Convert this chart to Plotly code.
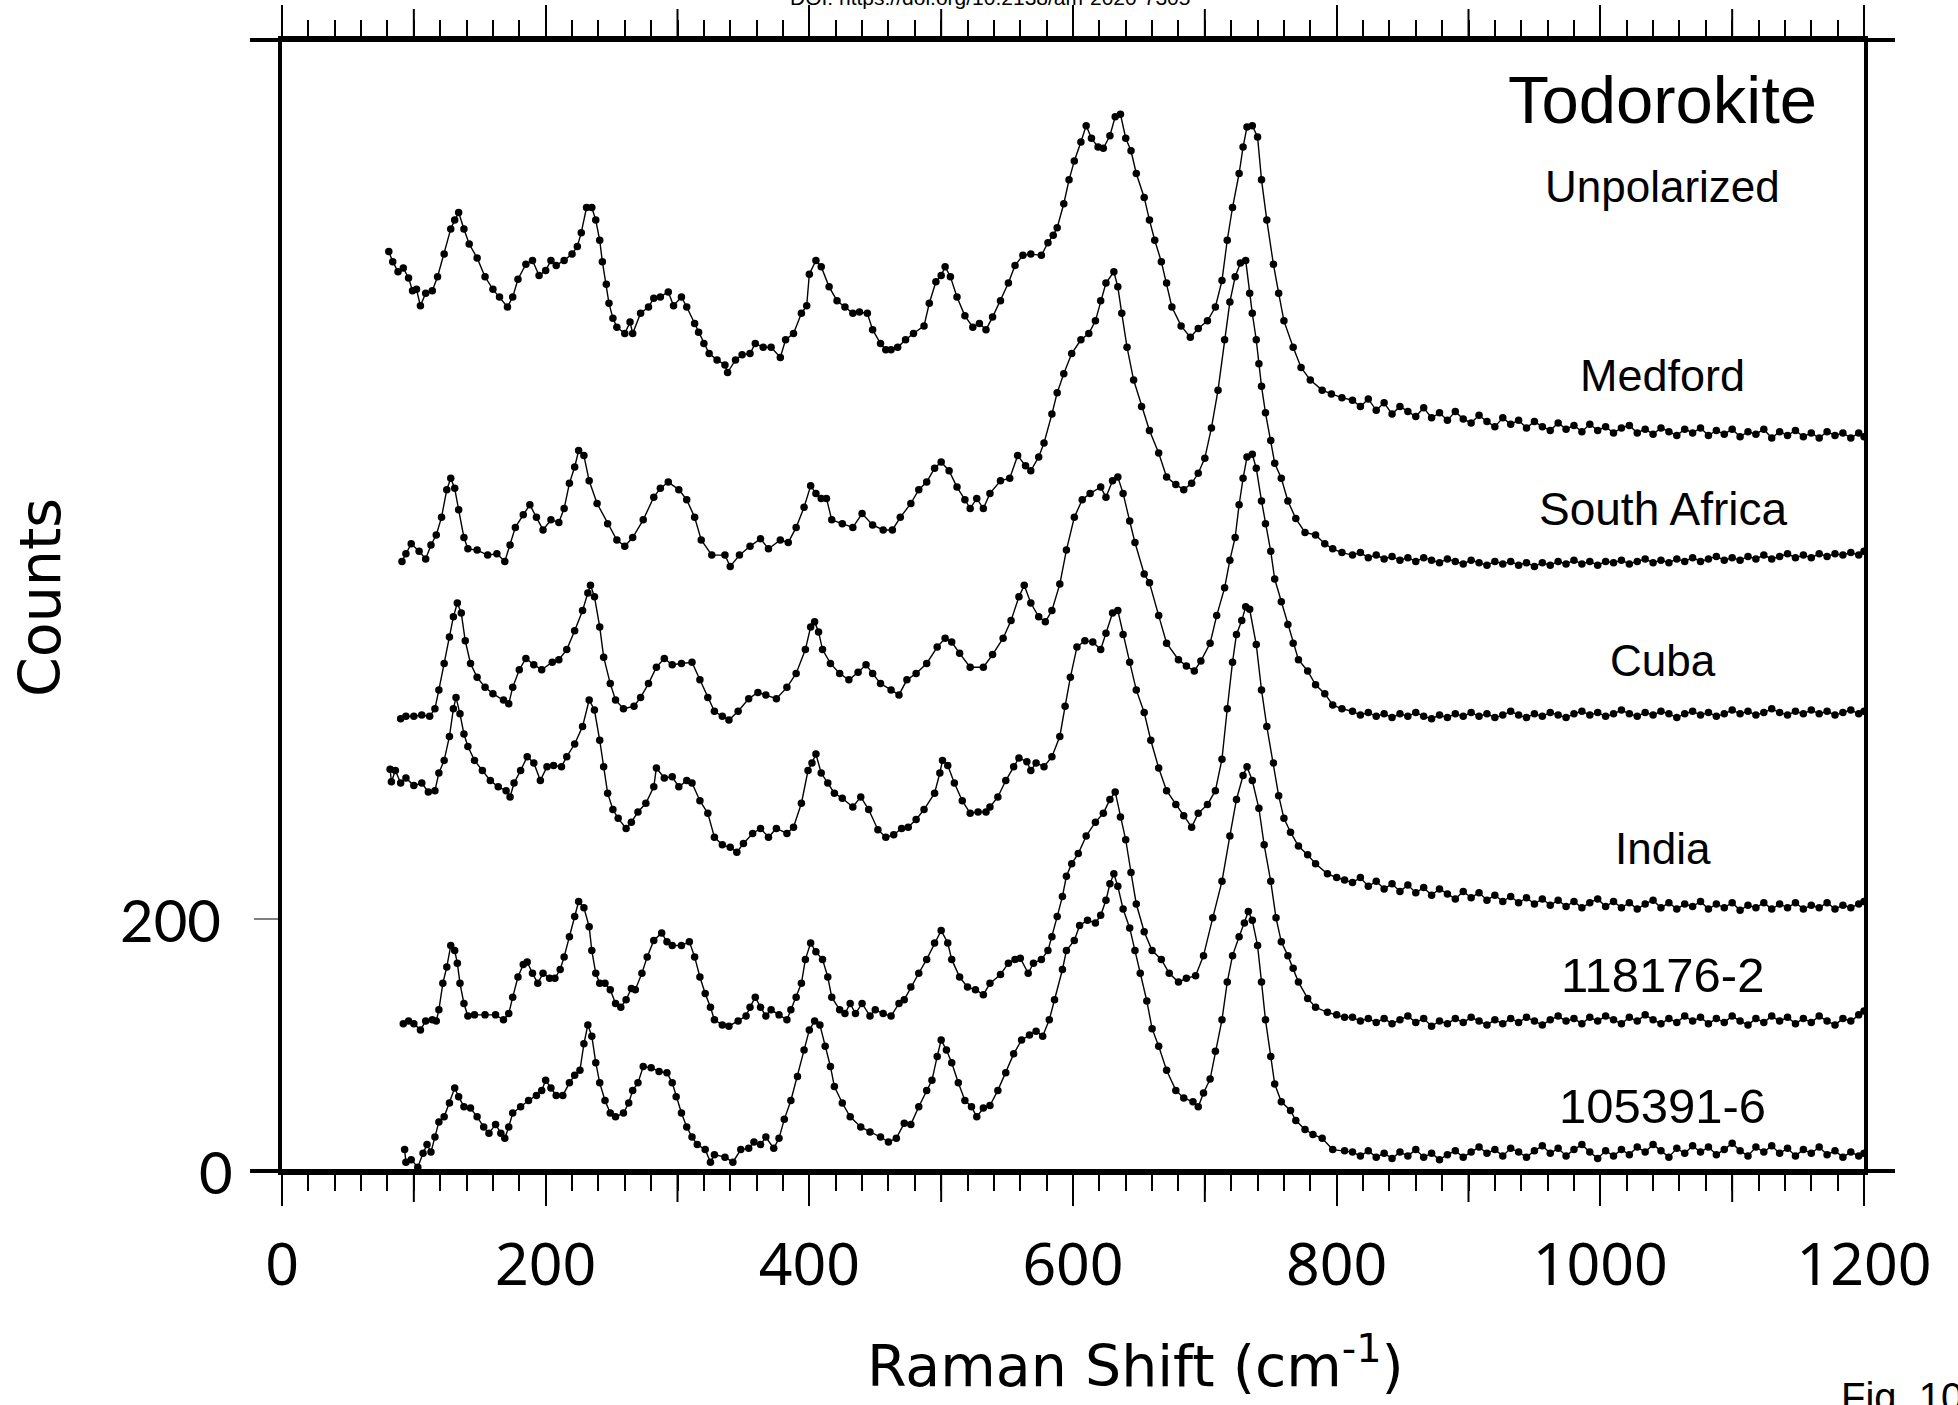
import plotly.graph_objects as go

# ---------------------------------------------------------------------------
# Raman spectra of todorokite, stacked with vertical offsets (counts).
# Each peak region is a list of (Raman shift cm-1, counts) pairs; the flat
# high-shift tails share one shift grid.
# ---------------------------------------------------------------------------

MEDFORD = [
    (81, 730), (84, 722), (88, 714), (92, 717), (96, 709), (99, 699), (102, 700), (105, 687),
    (109, 697), (114, 699), (118, 710), (123, 728), (128, 748), (131, 755), (134, 761), (138, 748),
    (142, 736), (148, 725), (154, 710), (160, 700), (165, 694), (171, 686), (175, 694), (179, 708),
    (185, 720), (190, 723), (195, 711), (200, 715), (204, 723), (208, 719), (214, 723), (220, 728),
    (224, 734), (227, 745), (231, 765), (235, 765), (238, 755), (241, 739), (243, 722), (246, 704),
    (248, 689), (251, 677), (254, 670), (260, 665), (264, 674), (266, 665), (272, 681), (278, 686),
    (282, 693), (287, 694), (293, 698), (297, 687), (303, 694), (307, 686), (313, 673), (316, 666),
    (320, 657), (324, 649), (330, 644), (336, 640), (338, 634), (344, 644), (349, 648), (355, 649),
    (359, 657), (365, 654), (371, 654), (378, 646), (382, 660), (388, 665), (394, 681), (398, 687),
    (400, 712), (405, 723), (409, 718), (415, 702), (421, 691), (427, 686), (433, 681), (438, 682),
    (444, 681), (448, 668), (454, 657), (458, 652), (462, 652), (467, 654), (473, 660), (479, 665),
    (487, 671), (491, 689), (496, 706), (500, 711), (503, 718), (507, 710), (512, 694), (518, 679),
    (524, 670), (529, 673), (534, 668), (539, 678), (545, 691), (551, 705), (556, 719), (562, 727),
    (568, 728), (576, 727), (581, 737), (585, 743), (588, 749), (593, 768), (597, 787), (601, 802),
    (606, 817), (610, 830), (614, 820), (619, 813), (623, 812), (628, 822), (632, 837), (636, 839),
    (640, 820), (644, 810), (648, 792), (654, 773), (658, 755), (662, 739), (667, 722), (671, 705),
    (675, 686), (682, 671), (689, 662), (695, 669), (702, 675), (708, 686), (713, 707), (717, 739),
    (721, 765), (726, 792), (729, 813), (732, 829), (736, 830), (740, 821), (743, 787), (747, 755),
    (752, 720), (756, 697), (760, 675), (767, 654), (773, 638), (780, 628), (789, 620), (796, 617),
    (804, 614),
]

SOUTH_AFRICA = [
    (91, 484), (94, 490), (98, 498), (104, 492), (109, 486), (113, 497), (117, 505), (121, 519),
    (125, 541), (128, 550), (131, 542), (134, 525), (138, 503), (141, 494), (148, 493), (156, 489),
    (163, 490), (169, 484), (173, 497), (177, 511), (183, 521), (188, 529), (193, 519), (198, 509),
    (204, 517), (210, 515), (214, 526), (218, 546), (222, 559), (225, 572), (229, 568), (233, 548),
    (239, 530), (247, 514), (254, 501), (260, 496), (266, 503), (274, 517), (282, 535), (287, 542),
    (293, 547), (301, 541), (307, 533), (313, 519), (318, 501), (326, 489), (336, 489), (340, 480),
    (347, 489), (355, 496), (363, 502), (369, 494), (378, 501), (384, 499), (390, 511), (396, 527),
    (401, 544), (405, 538), (409, 534), (413, 534), (417, 517), (425, 514), (433, 511), (440, 522),
    (448, 513), (456, 509), (463, 509), (469, 519), (477, 530), (483, 541), (489, 547), (495, 558),
    (500, 563), (506, 556), (512, 543), (518, 533), (522, 526), (527, 534), (532, 526), (537, 538),
    (545, 548), (552, 550), (558, 568), (564, 560), (568, 556), (574, 567), (578, 578), (584, 601),
    (588, 618), (593, 633), (599, 649), (606, 660), (612, 665), (617, 675), (621, 691), (625, 705),
    (631, 714), (634, 702), (637, 681), (641, 654), (646, 628), (652, 607), (658, 588), (665, 570),
    (671, 551), (678, 545), (684, 541), (690, 546), (695, 554), (700, 566), (705, 590), (710, 620),
    (715, 660), (719, 690), (723, 710), (727, 721), (731, 723), (734, 697), (736, 681), (739, 660),
    (741, 641), (743, 623), (746, 602), (750, 580), (753, 562), (758, 550), (763, 532), (769, 518),
    (776, 507), (784, 505), (791, 498), (797, 494), (804, 491),
]

CUBA = [
    (90, 359), (94, 361), (100, 361), (106, 362), (112, 361), (116, 367), (119, 382), (123, 403),
    (127, 424), (130, 440), (133, 451), (136, 443), (139, 421), (143, 403), (148, 392), (154, 384),
    (160, 379), (168, 374), (172, 371), (175, 384), (180, 398), (185, 407), (191, 402), (197, 398),
    (205, 404), (210, 406), (216, 414), (222, 429), (228, 445), (232, 459), (234, 465), (237, 456),
    (241, 432), (244, 408), (249, 387), (253, 374), (259, 367), (267, 369), (272, 376), (278, 387),
    (284, 400), (290, 407), (296, 402), (303, 403), (311, 404), (317, 390), (323, 376), (328, 365),
    (334, 361), (339, 358), (346, 365), (354, 375), (361, 380), (367, 378), (375, 375), (383, 384),
    (390, 395), (397, 414), (401, 432), (404, 436), (407, 428), (410, 414), (416, 403), (423, 395),
    (430, 390), (437, 396), (443, 402), (448, 395), (454, 387), (462, 382), (468, 378), (474, 390),
    (481, 395), (489, 403), (497, 416), (503, 423), (508, 420), (514, 411), (522, 400), (532, 400),
    (539, 410), (547, 423), (553, 437), (559, 456), (563, 465), (568, 451), (574, 440), (579, 436),
    (584, 445), (590, 466), (595, 493), (601, 519), (607, 533), (613, 538), (621, 543), (625, 535),
    (630, 548), (634, 551), (638, 538), (643, 516), (647, 499), (654, 474), (658, 467), (665, 441),
    (671, 419), (680, 406), (686, 401), (692, 397), (697, 405), (704, 419), (709, 441), (715, 463),
    (719, 485), (723, 503), (726, 529), (729, 550), (732, 567), (736, 569), (739, 558), (743, 532),
    (746, 514), (750, 492), (753, 470), (758, 452), (763, 434), (767, 419), (771, 406), (778, 397),
    (784, 386), (791, 379), (797, 370), (804, 367),
]

INDIA = [
    (82, 319), (83, 309), (86, 318), (90, 308), (94, 312), (100, 306), (106, 308), (111, 301),
    (116, 302), (119, 316), (123, 326), (127, 345), (130, 367), (132, 376), (135, 363), (138, 347),
    (141, 337), (146, 326), (152, 318), (158, 310), (164, 305), (170, 302), (173, 297), (176, 308),
    (181, 318), (186, 329), (191, 324), (196, 310), (201, 321), (206, 322), (212, 321), (216, 329),
    (222, 339), (228, 353), (233, 374), (237, 366), (241, 342), (244, 321), (247, 300), (251, 287),
    (255, 280), (261, 272), (265, 277), (270, 285), (276, 292), (282, 305), (284, 320), (290, 312),
    (296, 313), (301, 305), (307, 310), (311, 308), (317, 294), (323, 284), (328, 265), (334, 259),
    (340, 257), (345, 253), (350, 260), (357, 268), (363, 272), (369, 265), (375, 272), (383, 268),
    (388, 273), (394, 292), (399, 318), (402, 324), (405, 331), (409, 316), (414, 308), (419, 300),
    (425, 296), (433, 289), (439, 297), (445, 287), (452, 271), (458, 265), (464, 267), (470, 272),
    (475, 273), (481, 279), (487, 287), (495, 300), (499, 316), (501, 326), (505, 322), (510, 308),
    (516, 294), (522, 284), (528, 285), (534, 285), (537, 289), (543, 297), (549, 310), (555, 321),
    (559, 328), (565, 325), (568, 318), (572, 324), (578, 321), (584, 329), (590, 345), (594, 369),
    (598, 392), (603, 416), (609, 421), (615, 420), (621, 414), (625, 427), (630, 443), (634, 445),
    (638, 426), (643, 404), (648, 382), (654, 364), (659, 342), (665, 320), (671, 302), (678, 291),
    (684, 282), (690, 273), (695, 284), (702, 291), (708, 302), (713, 327), (717, 367), (721, 404),
    (724, 426), (728, 437), (731, 448), (734, 446), (739, 418), (743, 382), (747, 353), (752, 324),
    (756, 298), (760, 280), (765, 269), (771, 258), (778, 251), (784, 244), (793, 236), (800, 233),
    (806, 231),
]

R118176_2 = [
    (92, 117), (96, 119), (100, 117), (105, 112), (109, 119), (114, 120), (117, 119), (119, 128),
    (122, 149), (125, 162), (128, 179), (131, 175), (133, 165), (135, 149), (138, 133), (141, 123),
    (146, 124), (154, 124), (162, 124), (168, 120), (172, 125), (175, 138), (179, 154), (183, 164),
    (186, 166), (190, 157), (194, 149), (198, 157), (203, 153), (207, 153), (211, 160), (214, 170),
    (218, 186), (222, 202), (225, 214), (229, 209), (233, 194), (235, 175), (238, 157), (241, 149),
    (245, 149), (249, 144), (253, 133), (257, 130), (261, 136), (265, 145), (268, 144), (273, 157),
    (277, 170), (282, 183), (288, 189), (292, 182), (296, 179), (303, 179), (309, 182), (313, 170),
    (317, 154), (321, 141), (325, 130), (328, 120), (334, 116), (339, 115), (346, 119), (352, 123),
    (355, 130), (359, 138), (363, 130), (367, 123), (371, 128), (377, 124), (383, 120), (386, 128),
    (390, 138), (394, 149), (397, 168), (401, 181), (405, 174), (410, 168), (414, 154), (417, 138),
    (423, 128), (427, 125), (431, 133), (435, 125), (440, 133), (446, 123), (450, 128), (456, 125),
    (462, 123), (468, 133), (472, 136), (477, 146), (483, 157), (489, 168), (495, 181), (500, 191),
    (505, 181), (508, 168), (514, 154), (520, 146), (526, 144), (532, 140), (537, 149), (545, 156),
    (551, 165), (556, 168), (560, 169), (566, 157), (570, 165), (576, 168), (581, 175), (584, 186),
    (588, 202), (592, 218), (595, 234), (599, 244), (604, 252), (610, 266), (617, 277), (623, 284),
    (628, 295), (632, 301), (636, 281), (640, 263), (644, 237), (648, 212), (654, 190), (660, 175),
    (667, 168), (673, 157), (680, 150), (686, 153), (693, 155), (699, 171), (706, 201), (713, 230),
    (719, 266), (724, 295), (729, 314), (732, 321), (736, 310), (741, 288), (745, 259), (750, 230),
    (754, 201), (758, 182), (763, 171), (767, 161), (771, 150), (778, 137), (784, 130), (793, 126),
    (800, 124), (806, 122),
]

R105391_6 = [
    (93, 17), (94, 7), (98, 9), (103, 3), (107, 14), (110, 21), (113, 15), (116, 27),
    (119, 39), (123, 43), (127, 54), (131, 66), (134, 59), (138, 51), (143, 50), (148, 43),
    (153, 35), (157, 30), (162, 37), (166, 30), (169, 26), (172, 35), (175, 46), (181, 51),
    (187, 56), (193, 60), (197, 64), (200, 72), (204, 66), (208, 60), (213, 60), (218, 70),
    (222, 76), (226, 80), (229, 101), (232, 116), (235, 107), (238, 86), (241, 70), (245, 56),
    (249, 46), (253, 43), (259, 46), (263, 54), (266, 64), (270, 70), (274, 83), (280, 82),
    (286, 79), (292, 78), (296, 70), (299, 59), (303, 46), (307, 35), (311, 27), (315, 21),
    (321, 17), (325, 7), (328, 13), (336, 11), (342, 7), (348, 17), (354, 18), (358, 23),
    (363, 21), (367, 27), (373, 18), (377, 26), (381, 41), (386, 56), (391, 75), (396, 96),
    (400, 112), (404, 119), (408, 116), (412, 99), (416, 83), (419, 67), (425, 54), (431, 43),
    (439, 35), (446, 31), (454, 27), (460, 23), (466, 26), (472, 38), (477, 37), (483, 51),
    (489, 64), (493, 72), (497, 91), (500, 104), (504, 96), (508, 86), (513, 70), (518, 56),
    (523, 51), (527, 43), (532, 50), (537, 52), (543, 64), (549, 78), (555, 93), (561, 104),
    (567, 108), (572, 111), (577, 107), (582, 120), (586, 136), (592, 160), (595, 175), (601, 183),
    (605, 195), (611, 199), (617, 197), (621, 203), (625, 215), (628, 228), (631, 236), (634, 226),
    (638, 208), (643, 193), (647, 175), (651, 157), (656, 135), (660, 113), (665, 99), (671, 80),
    (678, 64), (684, 58), (691, 55), (695, 51), (699, 62), (704, 73), (708, 95), (713, 120),
    (717, 150), (721, 171), (726, 186), (730, 197), (733, 206), (736, 199), (740, 179), (743, 150),
    (746, 120), (750, 91), (753, 69), (758, 55), (765, 48), (769, 40), (776, 33), (782, 29),
    (789, 26), (797, 17), (806, 16),
]

# High-shift background, common shift grid (cm-1)
TAIL_SHIFT = [
    812, 818, 824, 830, 836, 842, 848, 854, 860, 866, 872,
    878, 884, 890, 896, 902, 908, 914, 920, 926, 932, 938,
    944, 950, 956, 962, 968, 974, 980, 986, 992, 998, 1004,
    1010, 1016, 1022, 1028, 1034, 1040, 1046, 1052, 1058, 1064, 1070,
    1076, 1082, 1088, 1094, 1100, 1106, 1112, 1118, 1124, 1130, 1136,
    1142, 1148, 1154, 1160, 1166, 1172, 1178, 1184, 1190, 1196, 1200,
]

MEDFORD_TAIL = [
    612, 607, 613, 604, 610, 601, 607, 603, 599, 606, 598,
    602, 596, 603, 597, 594, 600, 595, 591, 598, 593, 596,
    590, 595, 591, 588, 594, 589, 592, 587, 593, 588, 591,
    586, 590, 592, 586, 589, 585, 590, 587, 584, 589, 586,
    590, 584, 588, 585, 589, 583, 587, 585, 589, 582, 587,
    584, 588, 583, 586, 582, 587, 584, 586, 582, 586, 583,
]

SOUTH_AFRICA_TAIL = [
    489, 491, 487, 489, 486, 488, 485, 487, 484, 487, 485,
    483, 486, 484, 482, 485, 483, 481, 484, 482, 484, 481,
    483, 480, 483, 481, 484, 482, 485, 482, 484, 481, 484,
    483, 485, 482, 484, 486, 483, 485, 483, 486, 484, 487,
    484, 486, 488, 485, 487, 485, 488, 486, 489, 486, 488,
    490, 487, 489, 487, 490, 488, 490, 489, 491, 489, 492,
]

CUBA_TAIL = [
    365, 362, 364, 361, 363, 360, 363, 361, 364, 361, 359,
    362, 360, 363, 361, 364, 361, 363, 360, 362, 365, 362,
    360, 363, 361, 364, 362, 360, 363, 365, 362, 364, 361,
    363, 366, 363, 361, 364, 362, 365, 363, 360, 363, 365,
    362, 364, 361, 363, 366, 363, 365, 362, 364, 367, 364,
    362, 365, 363, 366, 363, 365, 362, 364, 366, 363, 365,
]

INDIA_TAIL = [
    229, 233, 226, 230, 224, 228, 222, 227, 221, 225, 219,
    224, 220, 216, 222, 217, 221, 215, 219, 214, 218, 213,
    217, 212, 216, 211, 215, 210, 214, 209, 213, 216, 210,
    214, 209, 213, 208, 212, 215, 209, 213, 208, 212, 210,
    214, 208, 212, 209, 213, 207, 211, 209, 213, 208, 212,
    209, 213, 208, 211, 209, 213, 208, 211, 209, 212, 214,
]

R118176_2_TAIL = [
    122, 119, 121, 118, 121, 117, 120, 123, 118, 121, 115,
    119, 117, 121, 118, 122, 119, 116, 120, 117, 121, 118,
    122, 119, 116, 120, 123, 119, 121, 117, 122, 119, 123,
    120, 117, 122, 119, 124, 120, 117, 121, 118, 123, 119,
    122, 117, 121, 118, 123, 119, 116, 121, 118, 123, 119,
    122, 117, 121, 118, 123, 119, 116, 121, 119, 124, 127,
]

R105391_6_TAIL = [
    15, 12, 16, 11, 14, 10, 15, 12, 17, 11, 14,
    9, 13, 16, 11, 15, 19, 14, 17, 12, 18, 15,
    11, 16, 20, 14, 18, 12, 17, 21, 15, 10, 16,
    12, 17, 13, 19, 15, 21, 16, 11, 18, 14, 20,
    15, 19, 13, 17, 22, 16, 12, 19, 15, 20, 14,
    18, 12, 17, 14, 19, 13, 16, 11, 15, 12, 14,
]

SPECTRA = [
    ("Medford", MEDFORD, MEDFORD_TAIL),
    ("South Africa", SOUTH_AFRICA, SOUTH_AFRICA_TAIL),
    ("Cuba", CUBA, CUBA_TAIL),
    ("India", INDIA, INDIA_TAIL),
    ("118176-2", R118176_2, R118176_2_TAIL),
    ("105391-6", R105391_6, R105391_6_TAIL),
]

X_LABELED = [0, 200, 400, 600, 800, 1000, 1200]   # long, labelled ticks
X_UNLABELED = [100, 300, 500, 700, 900, 1100]      # long ticks without text
Y_LABELED = [0, 200]

# ---------------------------------------------------------------------------
LABEL_FONT = "Liberation Sans, Arial, sans-serif"
TITLE_FONT = "DejaVu Sans, sans-serif"
TICK_FONT = "Noto Sans, Open Sans, sans-serif"

MAJOR_LEN = 31      # px
PLOT_H = 1405 - 40 - 234

fig = go.Figure()

for name, peaks, tail in SPECTRA:
    assert len(tail) == len(TAIL_SHIFT), name
    xs = [p[0] for p in peaks] + TAIL_SHIFT
    ys = [p[1] for p in peaks] + tail
    fig.add_trace(go.Scatter(
        x=xs, y=ys, name=name, mode="lines+markers",
        line=dict(color="black", width=1.4),
        marker=dict(color="black", size=7.5),
        showlegend=False, hoverinfo="skip",
    ))

fig.update_layout(
    width=1958, height=1405,
    margin=dict(l=282, r=94, t=40, b=234, autoexpand=False),
    paper_bgcolor="white", plot_bgcolor="white",
    showlegend=False,
)

fig.update_xaxes(
    range=[0, 1200], automargin=False,
    tickmode="array", tickvals=X_LABELED,
    ticktext=[str(v) for v in X_LABELED],
    ticks="outside", ticklen=MAJOR_LEN, tickwidth=2, tickcolor="black",
    minor=dict(tickmode="linear", tick0=0, dtick=20, ticks="outside",
               ticklen=16, tickwidth=2, tickcolor="black", showgrid=False),
    showline=True, linewidth=4, linecolor="black", mirror="ticks",
    showgrid=False, zeroline=False,
    tickfont=dict(family=TICK_FONT, size=59, color="black"),
    ticklabelstandoff=8,
)

fig.update_yaxes(
    range=[0, 898], automargin=False,
    tickmode="array", tickvals=[200],
    ticks="outside", ticklen=24, tickwidth=2, tickcolor="#808080",
    showticklabels=False,
    showline=True, linewidth=4, linecolor="black", mirror=True,
    showgrid=False, zeroline=False,
)

# long ticks at the odd hundreds, bottom and top
tick_frac = MAJOR_LEN / PLOT_H
for v in X_UNLABELED:
    for y0, y1 in ((0, -tick_frac), (1, 1 + tick_frac)):
        fig.add_shape(type="line", xref="x", yref="paper", x0=v, x1=v, y0=y0, y1=y1,
                      line=dict(color="black", width=2), layer="above")

# frame lines that run past the plotting box on both sides
for yp in (0, 1):
    fig.add_shape(type="line", xref="paper", yref="paper",
                  x0=-0.0202, x1=1.0196, y0=yp, y1=yp,
                  line=dict(color="black", width=4), layer="above")

# y tick labels
fig.add_annotation(text="200", xref="paper", yref="y", x=-0.0373, y=Y_LABELED[1],
                   xanchor="right", yanchor="middle", showarrow=False,
                   font=dict(family="Lato, sans-serif", size=58, color="black"))
fig.add_annotation(text="0", xref="paper", yref="y", x=-0.0297, y=Y_LABELED[0],
                   xanchor="right", yanchor="middle", showarrow=False,
                   font=dict(family="Lato, sans-serif", size=58, color="black"))

# axis titles
fig.add_annotation(text="Raman Shift (cm<sup>-1</sup>)", xref="paper", yref="paper",
                   x=0.5398, y=-0.2038, xanchor="center", yanchor="bottom",
                   showarrow=False,
                   font=dict(family=TITLE_FONT, size=57, color="black"))
fig.add_annotation(text="Counts", xref="paper", yref="paper",
                   x=-0.153, y=0.5075, xanchor="center", yanchor="middle",
                   textangle=-90, showarrow=False,
                   font=dict(family=TITLE_FONT, size=57, color="black"))

# title block and sample labels
fig.add_annotation(text="Todorokite", xref="x", yref="y", x=1047.5, y=851,
                   showarrow=False, xanchor="center", yanchor="middle",
                   font=dict(family=LABEL_FONT, size=67, color="black"))
fig.add_annotation(text="Unpolarized", xref="x", yref="y", x=1047.5, y=782,
                   showarrow=False, xanchor="center", yanchor="middle",
                   font=dict(family=LABEL_FONT, size=44, color="black"))

LABEL_Y = {"Medford": 632, "South Africa": 525.6, "Cuba": 405, "India": 256,
           "118176-2": 156, "105391-6": 52}
LABEL_SIZE = {"Medford": 45, "South Africa": 46, "Cuba": 44, "India": 44,
              "118176-2": 49, "105391-6": 49}
for name, _, _ in SPECTRA:
    fig.add_annotation(text=name, xref="x", yref="y", x=1047.5, y=LABEL_Y[name],
                       showarrow=False, xanchor="center", yanchor="middle",
                       font=dict(family=LABEL_FONT, size=LABEL_SIZE[name], color="black"))

# page furniture, partly outside the page as in the printed figure
fig.add_annotation(text="DOI: https://doi.org/10.2138/am-2020-7305", xref="paper", yref="paper",
                   x=0.4475, y=1.0255, xanchor="center", yanchor="bottom", showarrow=False,
                   font=dict(family=LABEL_FONT, size=21, color="black"))
fig.add_annotation(text="Fig. 10", xref="paper", yref="paper",
                   x=0.984, y=-0.1786, xanchor="left", yanchor="top", showarrow=False,
                   font=dict(family=LABEL_FONT, size=40, color="black"))

fig.write_html("out.html")
